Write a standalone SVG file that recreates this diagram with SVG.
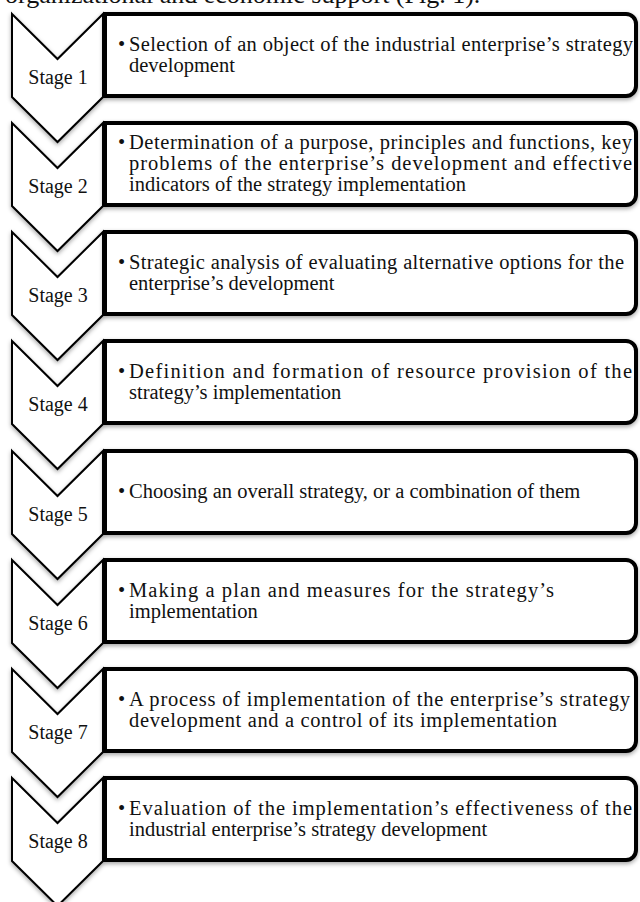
<svg xmlns="http://www.w3.org/2000/svg" width="640" height="902" viewBox="0 0 640 902">
<defs>
<filter id="sh" x="-20%" y="-20%" width="140%" height="140%">
<feDropShadow dx="0" dy="2" stdDeviation="2" flood-color="#000" flood-opacity="0.35"/>
</filter>
<style>
.chev{fill:#fff;stroke:#000;stroke-width:2;stroke-linejoin:miter;filter:url(#sh)}
.box{fill:#fff;stroke:#000;stroke-width:4;filter:url(#sh)}
.lbl{font-family:"Liberation Serif","Times New Roman",serif;font-size:20px;fill:#111;text-anchor:middle}
.t{font-family:"Liberation Serif","Times New Roman",serif;font-size:20.5px;fill:#111}
.top{font-family:"Liberation Serif","Times New Roman",serif;font-size:26px;fill:#111}
</style>
</defs>
<rect width="640" height="902" fill="#fff"/>
<text class="top" x="5" y="3">organizational and economic support (Fig. 1).</text>

<g id="stage1">
<path class="chev" d="M12,14 L57.5,59 L103,14 L103,97 L57.5,142 L12,97 Z"/>
<text class="lbl" x="58" y="84">Stage 1</text>
<path class="box" d="M105,14 H626 A10,10 0 0 1 636,24 V86 A10,10 0 0 1 626,96 H105 Z"/>
<text class="t" x="118" y="51">•</text>
<text class="t" x="129" y="51" textLength="504" lengthAdjust="spacing">Selection of an object of the industrial enterprise’s strategy</text>
<text class="t" x="129" y="72">development</text>
</g>

<g id="stage2">
<path class="chev" d="M12,123 L57.5,168 L103,123 L103,206 L57.5,251 L12,206 Z"/>
<text class="lbl" x="58" y="193">Stage 2</text>
<path class="box" d="M105,123 H626 A10,10 0 0 1 636,133 V195 A10,10 0 0 1 626,205 H105 Z"/>
<text class="t" x="118" y="149">•</text>
<text class="t" x="129" y="149" textLength="503" lengthAdjust="spacing">Determination of a purpose, principles and functions, key</text>
<text class="t" x="129" y="170" textLength="503" lengthAdjust="spacing">problems of the enterprise’s development and effective</text>
<text class="t" x="129" y="191">indicators of the strategy implementation</text>
</g>

<g id="stage3">
<path class="chev" d="M12,232 L57.5,277 L103,232 L103,315 L57.5,360 L12,315 Z"/>
<text class="lbl" x="58" y="302">Stage 3</text>
<path class="box" d="M105,232 H626 A10,10 0 0 1 636,242 V304 A10,10 0 0 1 626,314 H105 Z"/>
<text class="t" x="118" y="269">•</text>
<text class="t" x="129" y="269" textLength="495" lengthAdjust="spacing">Strategic analysis of evaluating alternative options for the</text>
<text class="t" x="129" y="290">enterprise’s development</text>
</g>

<g id="stage4">
<path class="chev" d="M12,341 L57.5,386 L103,341 L103,424 L57.5,469 L12,424 Z"/>
<text class="lbl" x="58" y="411">Stage 4</text>
<path class="box" d="M105,341 H626 A10,10 0 0 1 636,351 V413 A10,10 0 0 1 626,423 H105 Z"/>
<text class="t" x="118" y="378">•</text>
<text class="t" x="129" y="378" textLength="503" lengthAdjust="spacing">Definition and formation of resource provision of the</text>
<text class="t" x="129" y="399">strategy’s implementation</text>
</g>

<g id="stage5">
<path class="chev" d="M12,451 L57.5,496 L103,451 L103,534 L57.5,579 L12,534 Z"/>
<text class="lbl" x="58" y="521">Stage 5</text>
<path class="box" d="M105,451 H626 A10,10 0 0 1 636,461 V523 A10,10 0 0 1 626,533 H105 Z"/>
<text class="t" x="118" y="498">•</text>
<text class="t" x="129" y="498">Choosing an overall strategy, or a combination of them</text>
</g>

<g id="stage6">
<path class="chev" d="M12,560 L57.5,605 L103,560 L103,643 L57.5,688 L12,643 Z"/>
<text class="lbl" x="58" y="630">Stage 6</text>
<path class="box" d="M105,560 H626 A10,10 0 0 1 636,570 V632 A10,10 0 0 1 626,642 H105 Z"/>
<text class="t" x="118" y="597">•</text>
<text class="t" x="129" y="597" textLength="425" lengthAdjust="spacing">Making a plan and measures for the strategy’s</text>
<text class="t" x="129" y="618">implementation</text>
</g>

<g id="stage7">
<path class="chev" d="M12,669 L57.5,714 L103,669 L103,752 L57.5,797 L12,752 Z"/>
<text class="lbl" x="58" y="739">Stage 7</text>
<path class="box" d="M105,669 H626 A10,10 0 0 1 636,679 V741 A10,10 0 0 1 626,751 H105 Z"/>
<text class="t" x="118" y="706">•</text>
<text class="t" x="129" y="706" textLength="501" lengthAdjust="spacing">A process of implementation of the enterprise’s strategy</text>
<text class="t" x="129" y="727" textLength="428" lengthAdjust="spacing">development and a control of its implementation</text>
</g>

<g id="stage8">
<path class="chev" d="M12,778 L57.5,823 L103,778 L103,861 L57.5,906 L12,861 Z"/>
<text class="lbl" x="58" y="848">Stage 8</text>
<path class="box" d="M105,778 H626 A10,10 0 0 1 636,788 V850 A10,10 0 0 1 626,860 H105 Z"/>
<text class="t" x="118" y="815">•</text>
<text class="t" x="129" y="815" textLength="503" lengthAdjust="spacing">Evaluation of the implementation’s effectiveness of the</text>
<text class="t" x="129" y="836">industrial enterprise’s strategy development</text>
</g>

<g id="connectors"></g>
</svg>
